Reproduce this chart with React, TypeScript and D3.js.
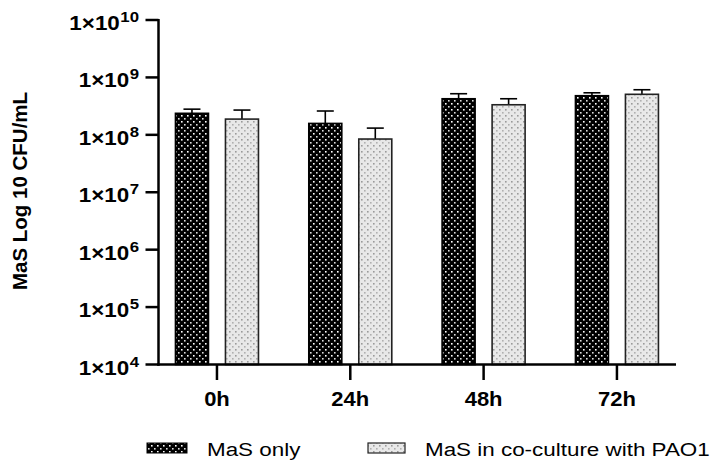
import React from "react";
import * as d3 from "d3";

// Time points and the two culture conditions
const timepoints = ["0h", "24h", "48h", "72h"];
const seriesNames = ["MaS only", "MaS in co-culture with PAO1"];

// Mean CFU/mL per time point
const masOnly = [2.37e8, 1.58e8, 4.25e8, 4.8e8];
const masCoculture = [1.88e8, 8.45e7, 3.34e8, 5.08e8];

// Upper end of the error bar (mean + SD)
const masOnlyUpper = [2.8e8, 2.6e8, 5.2e8, 5.4e8];
const masCocultureUpper = [2.7e8, 1.31e8, 4.25e8, 6.1e8];

const yTickExponents = [4, 5, 6, 7, 8, 9, 10];

const W = 717;
const H = 469;
const FONT = "'Liberation Sans', Arial, sans-serif";

export default function App() {
  const y = d3.scaleLog().domain([1e4, 1e10]).range([364.5, 20]);
  const x = d3.scaleBand().domain(timepoints).range([150.3, 683.6]).paddingInner(0).paddingOuter(0);
  const xSub = d3.scaleBand().domain(seriesNames).range([-41.5, 41.5]).paddingInner(0.34).paddingOuter(0);

  const values = [masOnly, masCoculture];
  const uppers = [masOnlyUpper, masCocultureUpper];
  const fills = ["url(#darkDots)", "url(#lightDots)"];
  const strokes = ["#000", "#222"];

  const axisLeft = 158.5;
  const axisRight = 676;
  const axisBottom = y(1e4);

  return (
    <svg width={W} height={H} style={{ position: "absolute", left: 0, top: 0, background: "#fff" }}>
      <defs>
        <pattern id="darkDots" width="6" height="6" patternUnits="userSpaceOnUse">
          <rect width="6" height="6" fill="#000" />
          <rect x="1" y="1" width="1.6" height="1.6" fill="#fff" />
          <rect x="4" y="4" width="1.6" height="1.6" fill="#ddd" />
        </pattern>
        <pattern id="lightDots" width="6" height="6" patternUnits="userSpaceOnUse">
          <rect width="6" height="6" fill="#e8e8e8" />
          <rect x="1" y="1" width="1.6" height="1.6" fill="#9a9a9a" />
          <rect x="4" y="4" width="1.6" height="1.6" fill="#b0b0b0" />
        </pattern>
      </defs>

      {/* bars with upward error bars */}
      {timepoints.map((t, i) => (
        <g key={t}>
          {seriesNames.map((s, k) => {
            const cx = (x(t) as number) + x.bandwidth() / 2 + (xSub(s) as number);
            const bw = xSub.bandwidth();
            const top = y(values[k][i]);
            const up = y(uppers[k][i]);
            const mid = cx + bw / 2;
            return (
              <g key={s}>
                <line x1={mid} x2={mid} y1={top} y2={up} stroke="#000" strokeWidth={1.6} />
                <line x1={mid - 8.5} x2={mid + 8.5} y1={up} y2={up} stroke="#000" strokeWidth={1.6} />
                <rect x={cx} y={top} width={bw} height={axisBottom - top} fill={fills[k]} stroke={strokes[k]} strokeWidth={1.6} />
              </g>
            );
          })}
        </g>
      ))}

      {/* y axis */}
      <line x1={axisLeft} x2={axisLeft} y1={y(1e10) - 1} y2={axisBottom + 1.2} stroke="#000" strokeWidth={2.5} />
      {yTickExponents.map((e) => {
        const ty = y(Math.pow(10, e));
        return (
          <g key={e}>
            <line x1={145.5} x2={axisLeft} y1={ty} y2={ty} stroke="#000" strokeWidth={2.5} />
            <text
              transform={`translate(139,${ty + 10}) scale(1.12,1)`}
              textAnchor="end"
              fontFamily={FONT}
              fontWeight="bold"
              fontSize={20}
              fill="#000"
            >
              1×10
              <tspan fontSize={15} dx={0.5} dy={-8}>{e}</tspan>
            </text>
          </g>
        );
      })}

      {/* x axis */}
      <line x1={axisLeft - 1.2} x2={axisRight} y1={axisBottom} y2={axisBottom} stroke="#000" strokeWidth={2.5} />
      {timepoints.map((t) => {
        const cx = (x(t) as number) + x.bandwidth() / 2;
        return (
          <g key={t}>
            <line x1={cx} x2={cx} y1={axisBottom} y2={380} stroke="#000" strokeWidth={2.5} />
            <text
              transform={`translate(${cx},406) scale(1.1,1)`}
              textAnchor="middle"
              fontFamily={FONT}
              fontWeight="bold"
              fontSize={20}
              fill="#000"
            >
              {t}
            </text>
          </g>
        );
      })}

      {/* y axis title */}
      <text
        transform={`translate(27,191) rotate(-90)`}
        textAnchor="middle"
        fontFamily={FONT}
        fontWeight="bold"
        fontSize={20.5}
        fill="#000"
      >
        MaS Log 10 CFU/mL
      </text>

      {/* legend */}
      <rect x={147} y={443} width={40} height={10} fill="url(#darkDots)" stroke="#000" strokeWidth={1} />
      <text transform="translate(207,455.5) scale(1.18,1)" fontFamily={FONT} fontSize={19} fill="#000">
        {seriesNames[0]}
      </text>
      <rect x={368} y={443} width={37} height={10} fill="url(#lightDots)" stroke="#222" strokeWidth={1.2} />
      <text transform="translate(425,455.5) scale(1.18,1)" fontFamily={FONT} fontSize={19} fill="#000">
        {seriesNames[1]}
      </text>
    </svg>
  );
}
